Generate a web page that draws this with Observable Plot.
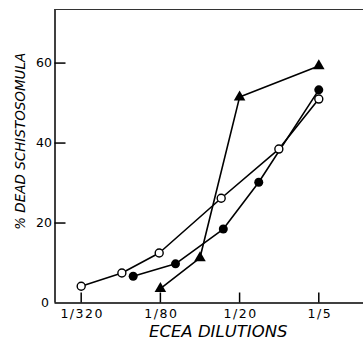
<!DOCTYPE html>
<html><head><meta charset="utf-8">
<script src="https://cdn.jsdelivr.net/npm/d3@7"></script>
<script src="https://cdn.jsdelivr.net/npm/@observablehq/plot@0.6"></script>
<style>
body{margin:0;background:#fff}
#chart svg{display:block}
.xtl text{letter-spacing:1.5px}
</style></head><body><div id="chart"></div>
<script>
// axis titles
const xTitle = "ECEA DILUTIONS";
const yTitle = "% DEAD SCHISTOSOMULA";
// tick labels (dilution denominators) and y ticks
const xTickDenoms = [320, 80, 20, 5];
const yTicks = [0, 20, 40, 60];
// open circles
const openDil = [320, 157, 81.7, 27.6, 10.06, 5];
const openPct = [4.2, 7.5, 12.5, 26.2, 38.5, 51];
// filled circles
const filledDil = [128.8, 61.4, 26.6, 14.3, 5];
const filledPct = [6.7, 9.8, 18.5, 30.2, 53.3];
// filled triangles
const triDil = [80, 40, 20, 5];
const triPct = [3.6, 11.3, 51.5, 59.3];

const domX = [0.001976, 0.4374];
const domY = [0, 73.4];

const toRows = (dil, pct) => dil.map((d, i) => ({x: 1 / d, y: pct[i]}));
const openRows = toRows(openDil, openPct);
const filledRows = toRows(filledDil, filledPct);
const triRows = toRows(triDil, triPct);

const chart = Plot.plot({
  width: 363, height: 340,
  marginLeft: 54.5, marginTop: 9, marginBottom: 37.5, marginRight: 0,
  style: {fontFamily: "DejaVu Sans", fontSize: "12px", background: "white", color: "black"},
  x: {type: "log", domain: domX},
  y: {domain: domY},
  marks: [
    Plot.ruleX([domX[0]], {strokeWidth: 1.5}),
    Plot.ruleY([domY[0]], {strokeWidth: 1.5}),
    Plot.ruleY([domY[1]], {strokeWidth: 1, stroke: "#333"}),
    Plot.axisX(xTickDenoms.map(d => 1 / d), {tickSize: -10, tickPadding: 15, strokeWidth: 1.5,
      tickFormat: () => "", label: null}),
    Plot.text(xTickDenoms, {x: d => 1 / d, text: d => "1/" + d, frameAnchor: "bottom",
      dy: 11, dx: 1, lineAnchor: "middle", fontSize: 12.5, className: "xtl"}),
    Plot.axisY(yTicks.filter(v => v > 0), {tickSize: -11, tickPadding: 14, strokeWidth: 1.5, fontSize: 12.5, label: null}),
    Plot.axisY([0], {tickSize: 0, tickPadding: 6, fontSize: 12.5, label: null}),
    Plot.text([xTitle], {text: d => d, frameAnchor: "bottom", textAnchor: "middle", dx: 9, dy: 29, lineAnchor: "middle",
      fontSize: 16.5, fontStyle: "italic"}),
    Plot.text([yTitle], {text: d => d, frameAnchor: "left", textAnchor: "middle", rotate: -90, dx: -34.5, dy: -15, lineAnchor: "middle",
      fontSize: 13.5, fontStyle: "italic"}),
    Plot.line(openRows, {x: "x", y: "y", strokeWidth: 1.6}),
    Plot.line(filledRows, {x: "x", y: "y", strokeWidth: 1.6}),
    Plot.line(triRows, {x: "x", y: "y", strokeWidth: 1.6}),
    Plot.dot(filledRows, {x: "x", y: "y", r: 4.5, fill: "black", stroke: "none"}),
    Plot.dot(triRows, {x: "x", y: "y", r: 4.3, symbol: "triangle", fill: "black", stroke: "none"}),
    Plot.dot(openRows, {x: "x", y: "y", r: 4, fill: "white", stroke: "black", strokeWidth: 1.4})
  ]
});
document.getElementById("chart").appendChild(chart);
</script></body></html>
